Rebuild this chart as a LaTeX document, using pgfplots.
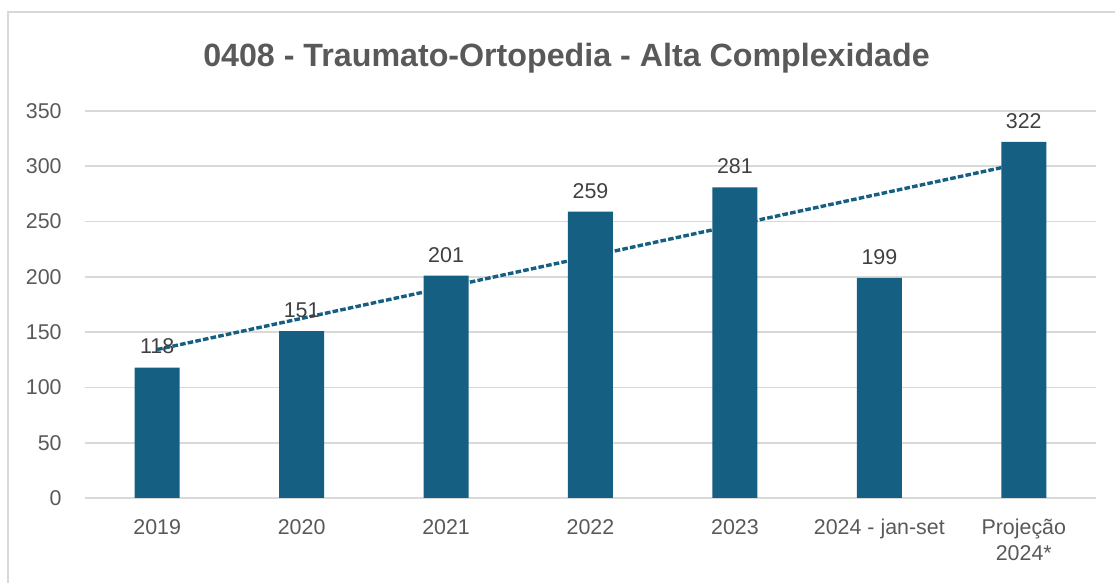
\documentclass[border=0pt]{standalone}
\usepackage{pgfplots}
\pgfplotsset{compat=1.18}
\usepackage{fontspec}
\setmainfont{Liberation Sans}
\definecolor{barblue}{HTML}{156082}
\definecolor{gridgray}{HTML}{D9D9D9}
\definecolor{ticktext}{HTML}{595959}
\definecolor{labeltext}{HTML}{404040}

\begin{document}
\begin{tikzpicture}[x=1pt,y=1pt]
  \path[use as bounding box] (0,0) rectangle (557.5,291.5);
  \draw[gridgray, line width=0.75pt] (4,-5) -- (4,285.5) -- (565,285.5);
  \node[font=\fontsize{16.1}{19}\selectfont\bfseries, text=ticktext]
    at (283.25,262.5) {0408 - Traumato-Ortopedia - Alta Complexidade};
  \begin{axis}[
    at={(42.5pt,42.5pt)}, anchor=south west,
    scale only axis, width=505.5pt, height=193.5pt,
    xmin=-0.5, xmax=6.5, ymin=0, ymax=350,
    axis line style={draw=none},
    major tick length=0pt,
    ymajorgrids, grid style={gridgray, line width=0.8pt},
    ytick={0,50,...,350},
    xtick={0,...,6},
    xticklabels={2019,2020,2021,2022,2023,2024 - jan-set,{Projeção\\2024*}},
    /pgf/number format/assume math mode=true,
    ticklabel style={font=\fontsize{10.7}{13}\selectfont, text=ticktext},
    yticklabel style={inner sep=0pt, anchor=east, xshift=-11.5pt},
    xticklabel style={inner sep=0pt, anchor=north, yshift=-10.5pt, align=center},
    clip=false,
  ]
    \addplot[ybar, bar width=22.5pt, fill=barblue, draw=none,
      nodes near coords,
      nodes near coords style={font=\fontsize{10.7}{13}\selectfont, text=labeltext,
        anchor=south, inner sep=0pt, yshift=6.5pt}]
      coordinates {(0,118) (1,151) (2,201) (3,259) (4,281) (5,199) (6,322)};
    % linear trend
    \addplot[barblue, line width=1.7pt, dash pattern=on 2.8pt off 1.1pt]
      coordinates {(0,134.3) (6,303.1)};
  \end{axis}
\end{tikzpicture}
\end{document}
